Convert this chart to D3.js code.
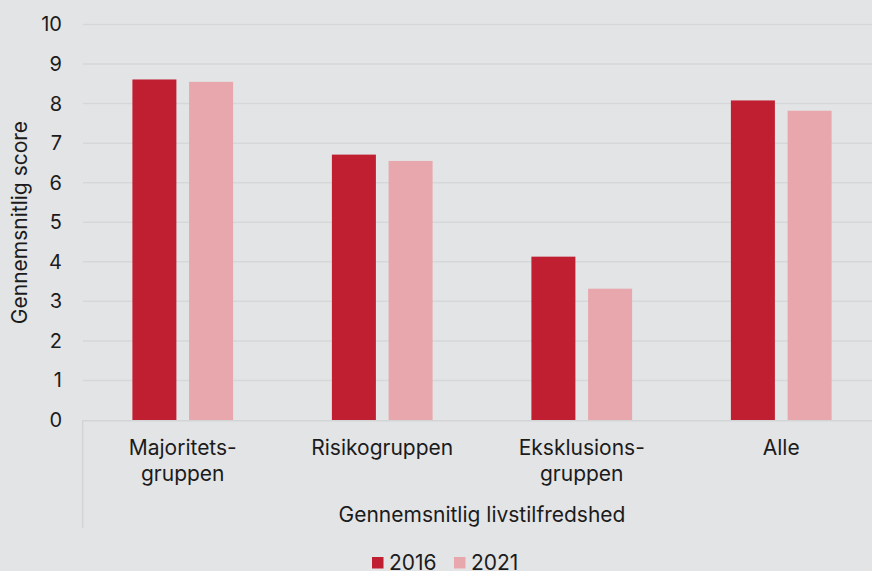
<!DOCTYPE html>
<html>
<head>
<meta charset="utf-8">
<script src="https://cdn.jsdelivr.net/npm/d3@7"></script>
<style>
  html, body { margin: 0; padding: 0; background: #e3e4e6; }
  svg { display: block; }
  text { font-family: Inter, "Noto Sans", sans-serif; fill: #1b1b1b; }
</style>
</head>
<body>
<svg id="chart" width="872" height="571"></svg>
<script>
// Gennemsnitlig livstilfredshed, 2016 vs 2021
const categories = [["Majoritets-", "gruppen"], ["Risikogruppen"], ["Eksklusions-", "gruppen"], ["Alle"]];
const seriesNames = ["2016", "2021"];
const values2016 = [8.61, 6.71, 4.13, 8.08];
const values2021 = [8.55, 6.55, 3.32, 7.82];
const yTicks = [0, 1, 2, 3, 4, 5, 6, 7, 8, 9, 10];
const colors = ["#c01f32", "#e8a7ac"];
const yTitle = "Gennemsnitlig score";
const xTitle = "Gennemsnitlig livstilfredshed";

const W = 872, H = 571;
const mLeft = 83, mRight = 881, mTop = 24.5, mBottom = 420;
const svg = d3.select("#chart");

const catKeys = categories.map(c => c.join(" "));
const x0 = d3.scaleBand().domain(catKeys).range([mLeft, mRight]);
const groupW = 100.7;
const x1 = d3.scaleBand().domain(seriesNames)
  .range([(x0.bandwidth() - groupW) / 2, (x0.bandwidth() + groupW) / 2])
  .paddingInner(0.224);
const y = d3.scaleLinear().domain([0, 10]).range([mBottom, mTop]);

// gridlines
svg.append("g")
  .selectAll("line").data(yTicks.filter(t => t > 0)).join("line")
  .attr("x1", mLeft).attr("x2", W)
  .attr("y1", d => y(d)).attr("y2", d => y(d))
  .attr("stroke", "#d6d7d9").attr("stroke-width", 1.5);

// y tick labels
const yAxis = svg.append("g").attr("transform", `translate(${mLeft},0)`)
  .call(d3.axisLeft(y).tickValues(yTicks).tickSize(0).tickPadding(21).tickFormat(d3.format("d")));
yAxis.select(".domain").remove();
yAxis.selectAll("text").style("font-size", "20px").attr("fill", "#1b1b1b");

// bars
const rows = catKeys.map((k, i) => ({ key: k, vals: [values2016[i], values2021[i]] }));
const groups = svg.append("g").selectAll("g").data(rows).join("g")
  .attr("transform", d => `translate(${x0(d.key)},0)`);
groups.selectAll("rect")
  .data(d => d.vals.map((v, j) => ({ s: seriesNames[j], v, j })))
  .join("rect")
  .attr("x", d => x1(d.s))
  .attr("width", x1.bandwidth())
  .attr("y", d => y(d.v))
  .attr("height", d => y(0) - y(d.v))
  .attr("fill", d => colors[d.j]);

// category axis frame
svg.append("line").attr("x1", mLeft).attr("x2", W).attr("y1", mBottom + 0.7).attr("y2", mBottom + 0.7)
  .attr("stroke", "#d3d4d6").attr("stroke-width", 1.5);
svg.append("line").attr("x1", mLeft - 0.3).attr("x2", mLeft - 0.3).attr("y1", mBottom).attr("y2", 528)
  .attr("stroke", "#d3d4d6").attr("stroke-width", 1.5);

// category labels
const catLabels = svg.append("g").selectAll("text").data(categories).join("text")
  .attr("x", (d, i) => x0(catKeys[i]) + x0.bandwidth() / 2)
  .attr("y", 455)
  .attr("text-anchor", "middle")
  .style("font-size", "21px");
catLabels.selectAll("tspan").data(d => d).join("tspan")
  .attr("x", function () { return d3.select(this.parentNode).attr("x"); })
  .attr("dy", (d, i) => i === 0 ? 0 : 25.5)
  .text(d => d);

// axis titles
svg.append("text")
  .attr("x", (mLeft + mRight) / 2).attr("y", 522)
  .attr("text-anchor", "middle").style("font-size", "21px")
  .text(xTitle);
svg.append("text")
  .attr("transform", `translate(27,222.5) rotate(-90)`)
  .attr("text-anchor", "middle").style("font-size", "21px")
  .text(yTitle);

// legend
const legend = svg.append("g");
const legX = [372, 454];
seriesNames.forEach((s, i) => {
  legend.append("rect").attr("x", legX[i]).attr("y", 557).attr("width", 11.5).attr("height", 11.5)
    .attr("fill", colors[i]);
  legend.append("text").attr("x", legX[i] + 17).attr("y", 570)
    .style("font-size", "21px").text(s);
});
</script>
</body>
</html>
